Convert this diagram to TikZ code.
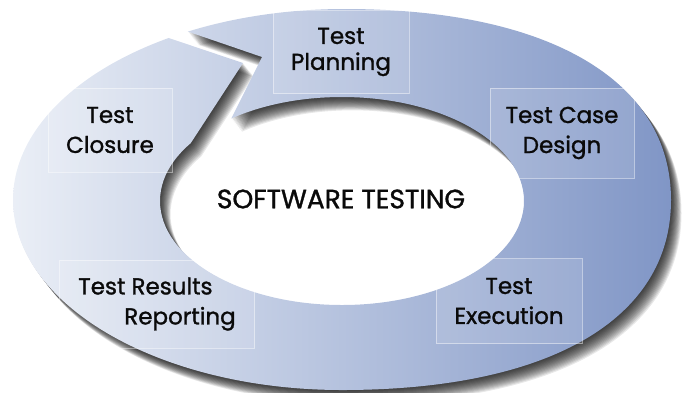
\documentclass[tikz,border=0pt]{standalone}
\usepackage{fontspec}
\setmainfont{Poppins}[FakeBold=1.2]
\usepackage{tikz}
\usetikzlibrary{positioning}
\usepackage{xcolor}
\definecolor{ringlight}{RGB}{236,240,247}
\definecolor{ringdark}{RGB}{126,148,197}
\definecolor{labeltext}{RGB}{10,10,10}

% ring outline, hole and the cut between Closure and Planning (pixel units)
\newcommand{\ringouter}{(13,200) .. controls (13,95) and (160,9) .. (345,9)
    .. controls (548,9) and (671,80) .. (671,200)
    .. controls (671,320) and (548,390) .. (342,390)
    .. controls (160,390) and (13,305) .. cycle}
\newcommand{\ringhole}{(342,201) ellipse (182 and 104)}
\newcommand{\ringcut}{(142,29) -- (243,63) -- (183,155) -- (225,131) -- (262,57) -- (157,21) -- cycle}

\begin{document}
\begin{tikzpicture}[
    x=1pt, y=-1pt,
    stage/.style={
        rectangle, draw=white, draw opacity=0.45, line width=0.5pt,
        fill=white, fill opacity=0.12, text opacity=1,
        align=center, text=labeltext, inner sep=0pt,
        font=\fontsize{23}{30}\selectfont
    },
    title/.style={font=\fontsize{26.5}{30}\selectfont, text=labeltext, inner sep=0pt}
]
\useasboundingbox (0,0) rectangle (684,392);

% Soft shadow of the ring
\foreach \s in {1,...,14}{
    \begin{scope}[shift={(0.75*\s,0.95*\s)}, even odd rule]
        \clip \ringouter \ringhole;
        \fill[black, opacity=0.09] (-20,-20) rectangle (704,412) \ringcut;
    \end{scope}
}

% Ring
\begin{scope}[even odd rule]
    \clip \ringouter \ringhole;
    \shade[left color=ringlight, right color=ringdark]
        (0,0) rectangle (684,392) \ringcut;
\end{scope}

% Stages
\node[stage, minimum width=136, minimum height=83, font=\fontsize{23}{26}\selectfont]
    (planning) at (341,52) {Test\\Planning};
\node[stage, minimum width=144, minimum height=90] (design) at (562,133) {Test Case\\Design};
\node[stage, minimum width=146, minimum height=85] (execution) at (509,301) {Test\\Execution};
\node[stage, minimum width=195, minimum height=88, align=left]
    (reporting) at (157,304) {Test Results\\\hspace*{46pt}Reporting};
\node[stage, minimum width=124, minimum height=84] (closure) at (110,130) {Test\\Closure};

% Centre
\node[title] (centre) at (341,199) {SOFTWARE TESTING};

\end{tikzpicture}
\end{document}
